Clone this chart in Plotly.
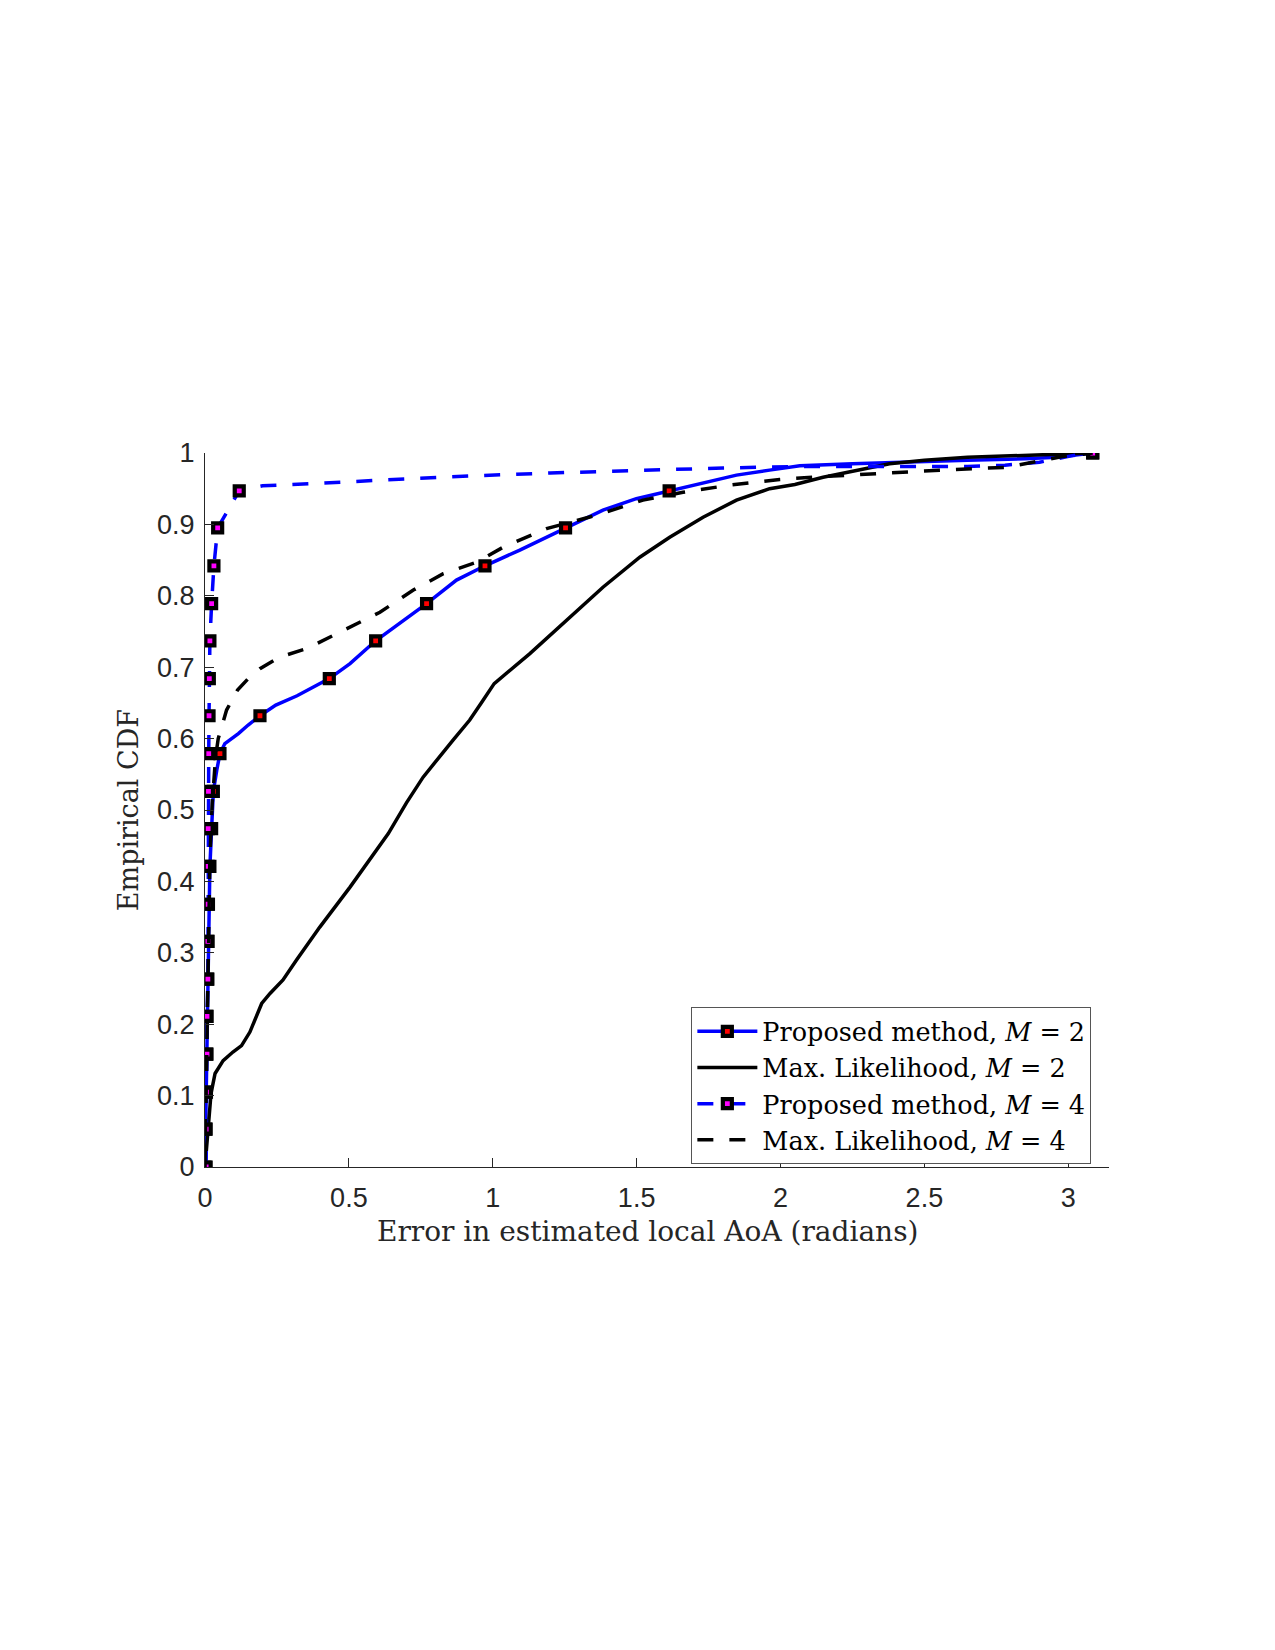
import plotly.graph_objects as go

# ---------------- data ----------------
# Proposed method, M = 2 (blue solid)
pm2_x = [0.000, 0.002, 0.003, 0.005, 0.006, 0.008, 0.010, 0.012, 0.017, 0.023, 0.029, 0.041, 0.052,
         0.069, 0.116, 0.150, 0.191, 0.246, 0.320, 0.432, 0.504, 0.593, 0.677, 0.770, 0.874, 0.973,
         1.094, 1.253, 1.383, 1.499, 1.613, 1.731, 1.847, 1.962, 2.067, 2.250, 2.450, 2.650, 2.850,
         2.960, 3.085]
pm2_y = [0.000, 0.053, 0.105, 0.158, 0.211, 0.263, 0.316, 0.368, 0.421, 0.474, 0.526, 0.556, 0.579,
         0.593, 0.607, 0.619, 0.632, 0.647, 0.660, 0.684, 0.705, 0.737, 0.761, 0.789, 0.822, 0.842,
         0.864, 0.895, 0.920, 0.936, 0.947, 0.959, 0.969, 0.976, 0.982, 0.985, 0.988, 0.990, 0.992,
         0.994, 1.000]
pm2_mx = [0.000, 0.002, 0.003, 0.005, 0.006, 0.008, 0.010, 0.012, 0.017, 0.023, 0.029, 0.052, 0.191,
          0.432, 0.593, 0.770, 0.973, 1.253, 1.613, 3.085]
pm2_my = [0.000, 0.053, 0.105, 0.158, 0.211, 0.263, 0.316, 0.368, 0.421, 0.474, 0.526, 0.579, 0.632,
          0.684, 0.737, 0.789, 0.842, 0.895, 0.947, 1.000]

# Max. Likelihood, M = 2 (black solid)
ml2_x = [0.000, 0.004, 0.011, 0.021, 0.035, 0.063, 0.097, 0.127, 0.156, 0.175, 0.197, 0.226, 0.271,
         0.318, 0.399, 0.504, 0.570, 0.637, 0.700, 0.758, 0.862, 0.920, 0.960, 1.005, 1.129, 1.256,
         1.383, 1.511, 1.615, 1.731, 1.847, 1.962, 2.050, 2.148, 2.264, 2.379, 2.500, 2.650, 2.800,
         2.950, 3.085]
ml2_y = [0.000, 0.020, 0.056, 0.103, 0.131, 0.149, 0.161, 0.170, 0.189, 0.208, 0.229, 0.243, 0.262,
         0.290, 0.336, 0.392, 0.430, 0.467, 0.510, 0.546, 0.598, 0.626, 0.650, 0.677, 0.719, 0.766,
         0.812, 0.854, 0.882, 0.910, 0.934, 0.950, 0.956, 0.966, 0.976, 0.985, 0.990, 0.994, 0.996,
         0.998, 1.000]

# Proposed method, M = 4 (blue dashed)
pm4_x = [0.004, 0.004, 0.005, 0.007, 0.007, 0.010, 0.010, 0.011, 0.011, 0.011, 0.012, 0.013, 0.014,
         0.015, 0.017, 0.023, 0.031, 0.044, 0.119, 0.200, 0.450, 0.700, 0.930, 1.200, 1.500, 1.800,
         2.050, 2.400, 2.650, 2.780, 2.900, 3.010, 3.085]
pm4_y = [0.000, 0.053, 0.105, 0.158, 0.211, 0.263, 0.316, 0.368, 0.421, 0.474, 0.526, 0.579, 0.632,
         0.684, 0.737, 0.789, 0.842, 0.895, 0.947, 0.954, 0.959, 0.964, 0.968, 0.972, 0.976, 0.979,
         0.981, 0.981, 0.981, 0.983, 0.987, 0.996, 1.000]
pm4_mx = [0.004, 0.004, 0.005, 0.007, 0.007, 0.010, 0.010, 0.011, 0.011, 0.011, 0.012, 0.013, 0.014,
          0.015, 0.017, 0.023, 0.031, 0.044, 0.119, 3.085]
pm4_my = [0.000, 0.053, 0.105, 0.158, 0.211, 0.263, 0.316, 0.368, 0.421, 0.474, 0.526, 0.579, 0.632,
          0.684, 0.737, 0.789, 0.842, 0.895, 0.947, 1.000]

# Max. Likelihood, M = 4 (black dashed)
ml4_x = [0.000, 0.003, 0.006, 0.011, 0.017, 0.025, 0.032, 0.037, 0.046, 0.075, 0.113, 0.150, 0.191,
         0.258, 0.353, 0.434, 0.515, 0.608, 0.724, 0.828, 0.944, 1.036, 1.187, 1.361, 1.522, 1.661,
         1.824, 1.997, 2.150, 2.320, 2.553, 2.785, 2.900, 2.980, 3.085]
ml4_y = [0.000, 0.080, 0.177, 0.318, 0.434, 0.509, 0.555, 0.575, 0.600, 0.640, 0.668, 0.684, 0.698,
         0.714, 0.726, 0.742, 0.759, 0.777, 0.808, 0.831, 0.847, 0.868, 0.894, 0.913, 0.934, 0.945,
         0.955, 0.963, 0.967, 0.971, 0.976, 0.980, 0.989, 0.995, 1.000]

legend_names = ["Proposed method, <i>M</i> = 2",
                "Max. Likelihood, <i>M</i> = 2",
                "Proposed method, <i>M</i> = 4",
                "Max. Likelihood, <i>M</i> = 4"]

x_ticks = [0, 0.5, 1, 1.5, 2, 2.5, 3]
x_tick_text = ["0", "0.5", "1", "1.5", "2", "2.5", "3"]
y_ticks = [0, 0.1, 0.2, 0.3, 0.4, 0.5, 0.6, 0.7, 0.8, 0.9, 1]
y_tick_text = ["0", "0.1", "0.2", "0.3", "0.4", "0.5", "0.6", "0.7", "0.8", "0.9", "1"]

# ---------------- styles ----------------
BLUE = "#0000FF"
LW = 3.5
DASH = "16px,16px"
MSIZE = 9
MLW = 4.2
SERIF = "DejaVu Serif, serif"
SANS = "Liberation Sans, Arial, sans-serif"

fig = go.Figure()

# Proposed M=2
fig.add_trace(go.Scatter(x=pm2_x, y=pm2_y, mode="lines", line=dict(color=BLUE, width=LW),
                         showlegend=False, hoverinfo="skip"))
fig.add_trace(go.Scatter(x=pm2_mx, y=pm2_my, mode="markers",
                         marker=dict(symbol="square", size=MSIZE, color="#FF0000",
                                     line=dict(color="black", width=MLW)),
                         showlegend=False, hoverinfo="skip"))
# ML M=2
fig.add_trace(go.Scatter(x=ml2_x, y=ml2_y, mode="lines", line=dict(color="black", width=LW),
                         showlegend=False, hoverinfo="skip"))
# Proposed M=4
fig.add_trace(go.Scatter(x=pm4_x, y=pm4_y, mode="lines", line=dict(color=BLUE, width=LW, dash=DASH),
                         showlegend=False, hoverinfo="skip"))
fig.add_trace(go.Scatter(x=pm4_mx, y=pm4_my, mode="markers",
                         marker=dict(symbol="square", size=MSIZE, color="#FF00FF",
                                     line=dict(color="black", width=MLW)),
                         showlegend=False, hoverinfo="skip"))
# ML M=4
fig.add_trace(go.Scatter(x=ml4_x, y=ml4_y, mode="lines", line=dict(color="black", width=LW, dash=DASH),
                         showlegend=False, hoverinfo="skip"))

# legend entries
fig.add_trace(go.Scatter(x=[None], y=[None], mode="lines+markers", name=legend_names[0],
                         line=dict(color=BLUE, width=LW),
                         marker=dict(symbol="square", size=MSIZE, color="#FF0000",
                                     line=dict(color="black", width=MLW))))
fig.add_trace(go.Scatter(x=[None], y=[None], mode="lines", name=legend_names[1],
                         line=dict(color="black", width=LW)))
fig.add_trace(go.Scatter(x=[None], y=[None], mode="lines+markers", name=legend_names[2],
                         line=dict(color=BLUE, width=LW, dash=DASH),
                         marker=dict(symbol="square", size=MSIZE, color="#FF00FF",
                                     line=dict(color="black", width=MLW))))
fig.add_trace(go.Scatter(x=[None], y=[None], mode="lines", name=legend_names[3],
                         line=dict(color="black", width=LW, dash=DASH)))

AXC = "#262626"
fig.update_layout(
    width=1275, height=1650,
    margin=dict(l=205, r=166, t=453, b=483, pad=0),
    paper_bgcolor="white", plot_bgcolor="white",
    showlegend=True,
    legend=dict(x=0.538, y=0.2237, xanchor="left", yanchor="top",
                bgcolor="white", bordercolor="#555555", borderwidth=1,
                font=dict(family=SERIF, size=25.5, color="black"),
                itemwidth=60, tracegroupgap=0, traceorder="normal"),
    xaxis=dict(range=[0, 3.14159], tickvals=x_ticks, ticktext=x_tick_text,
               showgrid=False, zeroline=False, showline=True, linecolor=AXC, linewidth=1,
               ticks="inside", ticklen=9, tickcolor=AXC, tickwidth=1, ticklabelstandoff=7,
               tickfont=dict(family=SANS, size=27, color="#262626"), mirror=False),
    yaxis=dict(range=[0, 1], tickvals=y_ticks, ticktext=y_tick_text,
               showgrid=False, zeroline=False, showline=True, linecolor=AXC, linewidth=1,
               ticks="inside", ticklen=9, tickcolor=AXC, tickwidth=1, ticklabelstandoff=4,
               tickfont=dict(family=SANS, size=27, color="#262626"), mirror=False),
    annotations=[
        dict(text="Error in estimated local AoA (radians)", xref="paper", yref="paper",
             x=0.49, y=-0.09, xanchor="center", yanchor="middle", showarrow=False,
             font=dict(family=SERIF, size=28, color="#262626")),
        dict(text="Empirical CDF", xref="paper", yref="paper", textangle=-90,
             x=-0.085, y=0.5, xanchor="center", yanchor="middle", showarrow=False,
             font=dict(family=SERIF, size=27, color="#262626")),
    ],
)

fig.write_html("out.html")
